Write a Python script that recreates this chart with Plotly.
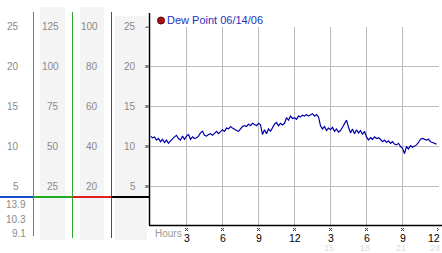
import plotly.graph_objects as go

W, H = 442, 253

# ---- data ----
dew_point = [
    11.3, 11.1, 11.2, 10.8, 11.0, 10.6,
    10.9, 10.5, 10.8, 10.4, 10.7, 11.0,
    11.2, 11.4, 11.0, 10.8, 11.3, 10.9,
    11.3, 11.5, 10.9, 11.2, 11.0, 11.1,
    11.3, 11.7, 11.9, 11.4, 11.3, 11.5,
    11.6, 11.4, 11.7, 11.9, 11.6, 11.8,
    12.1, 11.9, 12.3, 12.2, 12.5, 12.3,
    12.1, 12.0, 11.9, 12.2, 12.5, 12.6,
    12.5, 12.8, 12.6, 12.9, 12.7, 12.6,
    12.9, 12.7, 11.5, 12.1, 11.6, 12.2,
    11.9, 12.4, 12.8, 13.0, 12.6, 12.9,
    12.7, 12.9, 13.6, 13.3, 13.8, 13.5,
    13.6, 13.4, 13.8, 13.7, 13.9, 13.8,
    14.0, 13.8, 13.9, 14.1, 13.8, 14.0,
    13.7, 12.6, 12.2, 12.5, 12.0, 12.3,
    12.1, 12.4, 11.9, 12.2, 11.8, 12.0,
    12.4, 12.8, 13.3, 12.4, 11.7, 12.2,
    11.6, 12.1, 11.7, 12.0, 11.5, 11.9,
    11.2, 10.8, 11.1, 10.9, 11.2, 11.0,
    11.1, 10.9, 10.6, 10.8, 10.5, 10.7,
    10.4, 10.6, 10.3, 10.2, 10.4, 10.0,
    9.8, 9.1, 10.0, 9.7, 10.1, 9.9,
    10.0, 10.2, 10.5, 10.9, 11.0, 10.9,
    10.8, 10.9, 10.6, 10.5, 10.4, 10.3,
]
hours = [i / 6 for i in range(len(dew_point))]

x_tick_vals = [3, 6, 9, 12, 15, 18, 21, 24]
x_tick_text = ["3", "6", "9", "12", "3", "6", "9", "12"]
x_tick_text2 = ["", "", "", "", "15", "18", "21", "24"]
y_tick_vals = [25, 20, 15, 10, 5]
col1_labels = ["25", "20", "15", "10", "5"]
col2_labels = ["125", "100", "75", "50", "25"]
col3_labels = ["100", "80", "60", "40", "20"]
col4_labels = ["25", "20", "15", "10", "5"]
stat_labels = ["13.9", "10.3", "9.1"]
legend_text = "Dew Point 06/14/06"


def px(x):
    return x / W


def py(y):
    return 1 - y / H


FONT = "Liberation Sans, Arial, sans-serif"
GRID = "#bcbcbc"
LABEL = "#8a8a8a"
XS = 1.5 / 12.0   # half-width of tick cross, in hours (1.5 px)
YS = 1.5 / 8.0    # half-height of tick cross, in data units (1.5 px)

fig = go.Figure()
fig.add_trace(go.Scatter(x=hours, y=dew_point, mode="lines",
                         line=dict(color="#0000a8", width=1.2),
                         hoverinfo="skip", showlegend=False))

shapes = []
# shaded columns
for x0, x1, y0 in [(40, 65, 7), (80, 104, 7), (115, 147, 16)]:
    shapes.append(dict(type="rect", xref="paper", yref="paper", x0=px(x0), x1=px(x1),
                       y0=py(240), y1=py(y0), fillcolor="#f4f4f4", line=dict(width=0), layer="below"))
# vertical separators
for x, col, y1 in [(33.5, "#3590cc", 236), (72.5, "#30a830", 238), (111.5, "#b02828", 238)]:
    shapes.append(dict(type="line", xref="paper", yref="paper", x0=px(x), x1=px(x),
                       y0=py(12), y1=py(y1), line=dict(color=col, width=1)))
# horizontal colored segments
for x0, x1, col in [(0, 33.5, "#1c4cc8"), (33.5, 72.5, "#22aa22"), (72.5, 111.5, "#dd2020"), (111.5, 149.5, "#000000")]:
    shapes.append(dict(type="line", xref="paper", yref="paper", x0=px(x0), x1=px(x1),
                       y0=py(197), y1=py(197), line=dict(color=col, width=2)))
# black axes
shapes.append(dict(type="line", xref="paper", yref="paper", x0=px(149.5), x1=px(149.5),
                   y0=py(13), y1=py(225.5), line=dict(color="#000", width=1.5)))
shapes.append(dict(type="line", xref="paper", yref="paper", x0=px(149), x1=px(442),
                   y0=py(225.5), y1=py(225.5), line=dict(color="#000", width=1.5)))
# legend dot
shapes.append(dict(type="circle", xref="paper", yref="paper", x0=px(157.5), x1=px(164.5),
                   y0=py(24), y1=py(17), fillcolor="#a81010", line=dict(color="#600000", width=1)))

# small x-shaped tick marks
mark = dict(color="#333", width=1)
for v in x_tick_vals:
    yc = 229.5
    for s in (1, -1):
        shapes.append(dict(type="line", xref="x", yref="paper", x0=v - XS, x1=v + XS,
                           y0=py(yc - 1.5 * s), y1=py(yc + 1.5 * s), line=mark))
for v in y_tick_vals:
    xc = 147.0
    for s in (1, -1):
        shapes.append(dict(type="line", xref="paper", yref="y", x0=px(xc - 1.5), x1=px(xc + 1.5),
                           y0=v - YS * s, y1=v + YS * s, line=mark))

ann = []
for vals, xr in [(col1_labels, 21), (col2_labels, 60.5), (col3_labels, 99.5), (col4_labels, 137.5)]:
    for v, yv in zip(vals, y_tick_vals):
        ann.append(dict(text=v, xref="paper", yref="y", x=px(xr), y=yv, xanchor="right",
                        yanchor="middle", showarrow=False, font=dict(family=FONT, size=10, color=LABEL)))
for s, yy in zip(stat_labels, [204, 219, 233]):
    ann.append(dict(text=s, xref="paper", yref="paper", x=px(27.5), y=py(yy), xanchor="right",
                    yanchor="middle", showarrow=False, font=dict(family=FONT, size=10, color=LABEL)))
last = len(x_tick_vals) - 1
for i, (v, t, t2) in enumerate(zip(x_tick_vals, x_tick_text, x_tick_text2)):
    edge = i == last
    if t2:
        if edge:
            ann.append(dict(text=t2, xref="paper", yref="paper", x=px(441.5), y=py(248),
                            xanchor="right", yanchor="middle", showarrow=False,
                            font=dict(family=FONT, size=9, color="#dcdcdc")))
        else:
            ann.append(dict(text=t2, xref="x", yref="paper", x=v - 0.15, y=py(248),
                            xanchor="center", yanchor="middle", showarrow=False,
                            font=dict(family=FONT, size=9, color="#dcdcdc")))
    if edge:
        ann.append(dict(text=t, xref="paper", yref="paper", x=px(441.8), y=py(237.5),
                        xanchor="right", yanchor="middle", showarrow=False,
                        font=dict(family=FONT, size=10.5, color="#000")))
    else:
        ann.append(dict(text=t, xref="x", yref="paper", x=v, y=py(237.5),
                        xanchor="center", yanchor="middle", showarrow=False,
                        font=dict(family=FONT, size=10.5, color="#000")))
ann.append(dict(text="Hours", xref="paper", yref="paper", x=px(152.5), y=py(233), xanchor="left",
                yanchor="middle", showarrow=False, font=dict(family=FONT, size=10, color="#999")))
ann.append(dict(text=legend_text, xref="paper", yref="paper", x=px(165), y=py(20.5), xanchor="left",
                yanchor="middle", showarrow=False, font=dict(family=FONT, size=11, color="#2233bb")))

fig.update_layout(
    width=W, height=H, margin=dict(l=0, r=0, t=0, b=0),
    paper_bgcolor="white", plot_bgcolor="white",
    xaxis=dict(domain=[px(150.5), px(438.5)], range=[0, 24], tickvals=x_tick_vals,
               showticklabels=False, showgrid=True, gridcolor=GRID, gridwidth=1,
               zeroline=False, showline=False, ticks="", fixedrange=True),
    yaxis=dict(domain=[py(226.5), py(26.5)], range=[0, 25], tickvals=y_tick_vals,
               showticklabels=False, showgrid=True, gridcolor=GRID, gridwidth=1,
               zeroline=False, showline=False, ticks="", fixedrange=True),
    shapes=shapes, annotations=ann, showlegend=False,
)
fig.write_html("out.html")
